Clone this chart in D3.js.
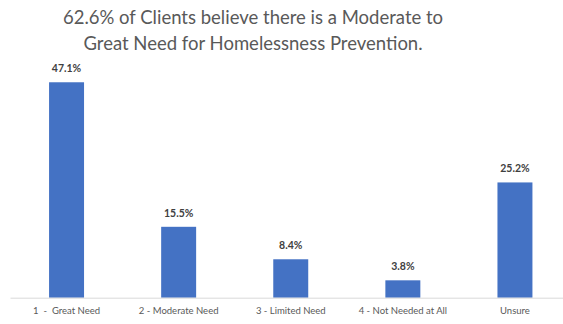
<!DOCTYPE html>
<html>
<head>
<meta charset="utf-8">
<script src="https://cdn.jsdelivr.net/npm/d3@7"></script>
<style>
  html, body { margin: 0; padding: 0; background: #fff; }
  svg { display: block; }
</style>
</head>
<body>
<svg id="chart" width="563" height="324"></svg>
<script>
// Survey responses: perceived need for homelessness prevention
const categories = ["1  -  Great Need", "2 - Moderate Need", "3 - Limited Need", "4 - Not Needed at All", "Unsure"];
const values = [47.1, 15.5, 8.4, 3.8, 25.2];
const titleLines = [
  "62.6% of Clients believe there is a Moderate to",
  "Great Need for Homelessness Prevention."
];

const svg = d3.select("#chart");
const W = 563, H = 324;
const font = "Lato, 'Open Sans', sans-serif";

const baseline = 297.7;
const x = d3.scaleBand()
  .domain(categories)
  .range([10.5, 571])
  .paddingInner(0.688)
  .paddingOuter(0.344);
const y = d3.scaleLinear().domain([0, 50]).range([baseline, 69]);

// Title
svg.append("g")
  .selectAll("text")
  .data(titleLines)
  .join("text")
  .attr("x", 253)
  .attr("y", (d, i) => 24 + i * 26)
  .attr("text-anchor", "middle")
  .attr("font-family", font)
  .attr("font-size", 18.5)
  .attr("fill", "#595959")
  .text(d => d);

// Bars
svg.append("g")
  .selectAll("rect")
  .data(values)
  .join("rect")
  .attr("x", (d, i) => x(categories[i]))
  .attr("y", d => y(d))
  .attr("width", x.bandwidth())
  .attr("height", d => baseline - y(d))
  .attr("fill", "#4472C4");

// Value labels
svg.append("g")
  .selectAll("text")
  .data(values)
  .join("text")
  .attr("x", (d, i) => x(categories[i]) + x.bandwidth() / 2)
  .attr("y", d => y(d) - 10)
  .attr("text-anchor", "middle")
  .attr("font-family", font)
  .attr("font-size", 10.5)
  .attr("font-weight", "bold")
  .attr("fill", "#404040")
  .text(d => d.toFixed(1) + "%");

// Category axis
const axis = svg.append("g")
  .attr("transform", `translate(0,${baseline})`)
  .call(d3.axisBottom(x).tickSize(0).tickPadding(10));
axis.select(".domain").attr("stroke", "#d9d9d9").attr("stroke-width", 1)
  .attr("d", `M10.5,0.5H${W}`);
axis.selectAll("text")
  .attr("font-family", font)
  .attr("font-size", 9.5)
  .attr("fill", "#595959")
  .style("white-space", "pre");
</script>
</body>
</html>
